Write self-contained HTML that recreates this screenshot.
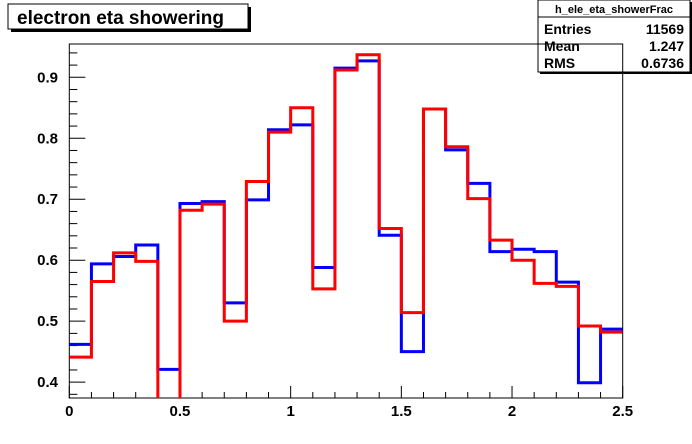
<!DOCTYPE html>
<html><head><meta charset="utf-8"><style>
body{margin:0;background:#fff;}
svg{display:block;font-family:"Liberation Sans",sans-serif;}
</style></head><body>
<svg id="c" width="692" height="444">
<rect x="0" y="0" width="692" height="444" fill="#fff"/>
<g>
<rect x="11" y="7" width="240" height="25" fill="#000"/>
<rect x="8" y="4" width="240" height="25" fill="#fff" stroke="#000" stroke-width="1"/>
<text x="17" y="24" font-size="19" font-weight="bold">electron eta showering</text>
</g>
<g>
<rect x="540" y="2" width="152" height="72" fill="#000"/>
<rect x="538" y="0" width="152" height="72" fill="#fff" stroke="#000"/>
<text x="614" y="13" font-size="11" font-weight="bold" text-anchor="middle">h_ele_eta_showerFrac</text>
<line x1="538" y1="17" x2="690" y2="17" stroke="#000"/>
<text x="544" y="34" font-size="14" font-weight="bold">Entries</text><text x="684" y="34" font-size="14" font-weight="bold" text-anchor="end">11569</text>
<text x="544" y="51" font-size="14" font-weight="bold">Mean</text><text x="684" y="51" font-size="14" font-weight="bold" text-anchor="end">1.247</text>
<text x="544" y="68" font-size="14" font-weight="bold">RMS</text><text x="684" y="68" font-size="14" font-weight="bold" text-anchor="end">0.6736</text>
</g>
<g id="axes"></g>
<g id="series"></g>
</svg>
<script>
const blueValues=[0.462,0.594,0.606,0.625,0.421,0.693,0.696,0.530,0.699,0.814,0.822,0.588,0.915,0.927,0.641,0.450,0.848,0.781,0.726,0.614,0.618,0.614,0.564,0.399,0.487];
const redValues=[0.441,0.565,0.612,0.598,0.370,0.682,0.692,0.500,0.729,0.810,0.850,0.553,0.912,0.937,0.652,0.514,0.848,0.786,0.701,0.633,0.600,0.562,0.557,0.492,0.482];
const xTicks=[0,0.5,1,1.5,2,2.5];
const xTickLabels=["0","0.5","1","1.5","2","2.5"];
const yTicks=[0.4,0.5,0.6,0.7,0.8,0.9];
const yTickLabels=["0.4","0.5","0.6","0.7","0.8","0.9"];
const binWidth=0.1, xMin=0, xMax=2.5, yMin=0.374, yMax=0.9546;
const L=69.3,R=622.7,T=44,B=398;
const X=v=>L+(v-xMin)/(xMax-xMin)*(R-L);
const Y=v=>B-(v-yMin)/(yMax-yMin)*(B-T);
const NS="http://www.w3.org/2000/svg";
function mk(tag,attrs,parent){const e=document.createElementNS(NS,tag);for(const k in attrs)e.setAttribute(k,attrs[k]);parent.appendChild(e);return e;}
const ax=document.getElementById('axes'), se=document.getElementById('series');
const frame=mk('rect',{x:L,y:T,width:R-L,height:B-T,fill:'none',stroke:'#000','stroke-width':1},ax);


for(let v=0;v<=2.5001;v+=0.1){const maj=Math.abs(v*2-Math.round(v*2))<1e-6;const t=mk('line',{x1:X(v),x2:X(v),y1:B,y2:B-(maj?12:6),stroke:'#000'},ax);

}
for(let v=0.38;v<=0.95;v+=0.02){const maj=Math.abs(v*10-Math.round(v*10))<1e-6;const t=mk('line',{x1:L,x2:L+(maj?16:8),y1:Y(v),y2:Y(v),stroke:'#000'},ax);

}
xTicks.forEach((v,i)=>{const t=mk('text',{x:X(v),y:416,'font-size':15,'font-weight':'bold','text-anchor':'middle'},ax);t.textContent=xTickLabels[i];

});
yTicks.forEach((v,i)=>{const t=mk('text',{x:58,y:Y(v)+5,'font-size':15,'font-weight':'bold','text-anchor':'end'},ax);t.textContent=yTickLabels[i];

});
mk('clipPath',{id:'cp'},se).appendChild(Object.assign(document.createElementNS(NS,'rect'),{})).setAttribute('x',L);
const cr=se.querySelector('#cp rect');cr.setAttribute('y',T);cr.setAttribute('width',R-L);cr.setAttribute('height',B-T);
function step(vals,color,name){let d='';vals.forEach((v,i)=>{const x0=X(xMin+i*binWidth),x1=X(xMin+(i+1)*binWidth),y=Y(v);d+=(i?'L':'M')+x0+','+y+'L'+x1+','+y;});
const p=mk('path',{d:d,fill:'none',stroke:color,'stroke-width':3,'clip-path':'url(#cp)'},se);

}
step(blueValues,'#0000ff','blue-histogram');
step(redValues,'#ff0000','red-histogram');
</script>
</body></html>
